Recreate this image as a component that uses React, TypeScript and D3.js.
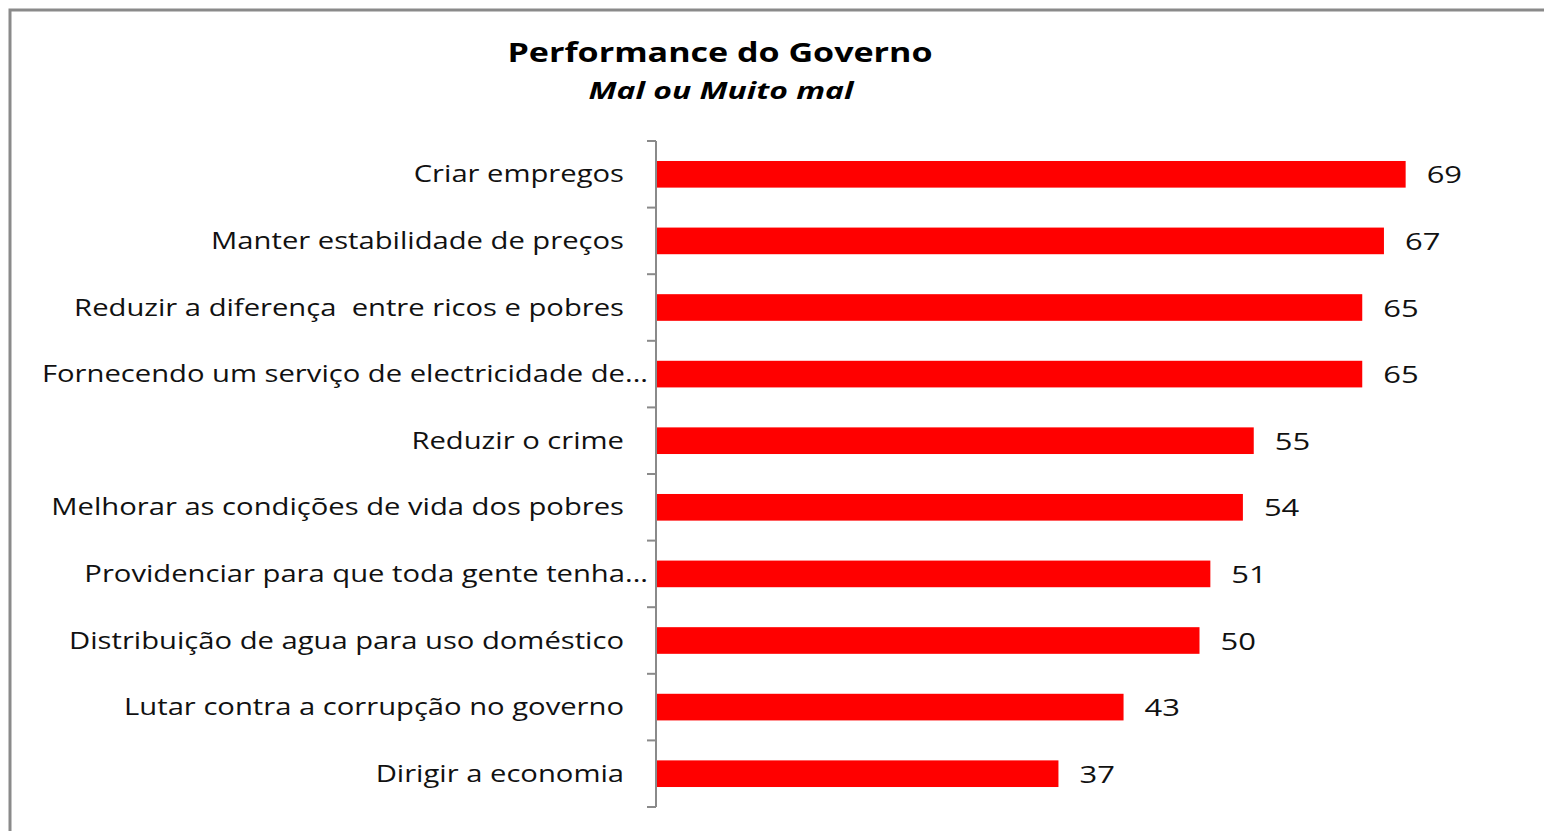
import React from 'react';
import * as d3 from 'd3';

const WIDTH = 1544;
const HEIGHT = 831;
const AXIS_X = 657;
const PLOT_TOP = 141;
const PLOT_BOTTOM = 807;
const LABEL_STRETCH = 1.27;
const VALUE_STRETCH = 1.29;

const categories = [
  'Criar empregos',
  'Manter estabilidade de preços',
  'Reduzir a diferença  entre ricos e pobres',
  'Fornecendo um serviço de electricidade de...',
  'Reduzir o crime',
  'Melhorar as condições de vida dos pobres',
  'Providenciar para que toda gente tenha...',
  'Distribuição de agua para uso doméstico',
  'Lutar contra a corrupção no governo',
  'Dirigir a economia',
];
const values = [69, 67, 65, 65, 55, 54, 51, 50, 43, 37];

const FONT = '"Open Sans", sans-serif';

export default function App() {
  const y = d3.scaleBand<string>()
    .domain(categories)
    .range([PLOT_TOP, PLOT_BOTTOM])
    .paddingInner(0.6)
    .paddingOuter(0.3);
  const x = d3.scaleLinear().domain([0, 80]).range([AXIS_X, AXIS_X + 868]);
  const step = y.step();
  const boundaries = d3.range(categories.length + 1).map(i => PLOT_TOP + i * step);

  return (
    <svg width={WIDTH} height={HEIGHT} style={{ position: 'absolute', left: 0, top: 0 }}
      xmlns="http://www.w3.org/2000/svg">
      <rect x={0} y={0} width={WIDTH} height={HEIGHT} fill="#fff" />
      <rect x={10} y={10} width={WIDTH + 20} height={HEIGHT + 20} fill="#fff" stroke="#8a8a8a" strokeWidth={3} />

      <g fontFamily={FONT} textAnchor="middle" fill="#000">
        <text transform="translate(720,62) scale(1.31,1)" fontSize={26} fontWeight="bold">Performance do Governo</text>
        <text transform="translate(721,99) scale(1.33,1)" fontSize={24} fontWeight="bold" fontStyle="italic">Mal ou Muito mal</text>
      </g>

      {categories.map((c, i) => (
        <rect key={c} x={x(0)} y={y(c)} width={x(values[i]) - x(0)} height={y.bandwidth()} fill="#ff0000" />
      ))}

      <g stroke="#8a8a8a" strokeWidth={2}>
        <line x1={AXIS_X - 1} x2={AXIS_X - 1} y1={PLOT_TOP} y2={PLOT_BOTTOM} />
        {boundaries.map(b => (
          <line key={b} x1={AXIS_X - 10} x2={AXIS_X - 1} y1={b} y2={b} />
        ))}
      </g>

      <g fontFamily={FONT} fontSize={23} fill="#111">
        {categories.map(c => {
          const truncated = c.endsWith('...');
          const tx = truncated ? 648 : 624;
          const ty = (y(c) as number) + y.bandwidth() / 2 + 8;
          return (
            <text key={c} textAnchor="end" transform={`translate(${tx},${ty}) scale(${LABEL_STRETCH},1)`}
              style={{ whiteSpace: 'pre' }}>{c}</text>
          );
        })}
        {categories.map((c, i) => {
          const ty = (y(c) as number) + y.bandwidth() / 2 + 9;
          return (
            <text key={c + '-v'} transform={`translate(${x(values[i]) + 21},${ty}) scale(${VALUE_STRETCH},1)`}
              fontSize={24}>{values[i]}</text>
          );
        })}
      </g>
    </svg>
  );
}
